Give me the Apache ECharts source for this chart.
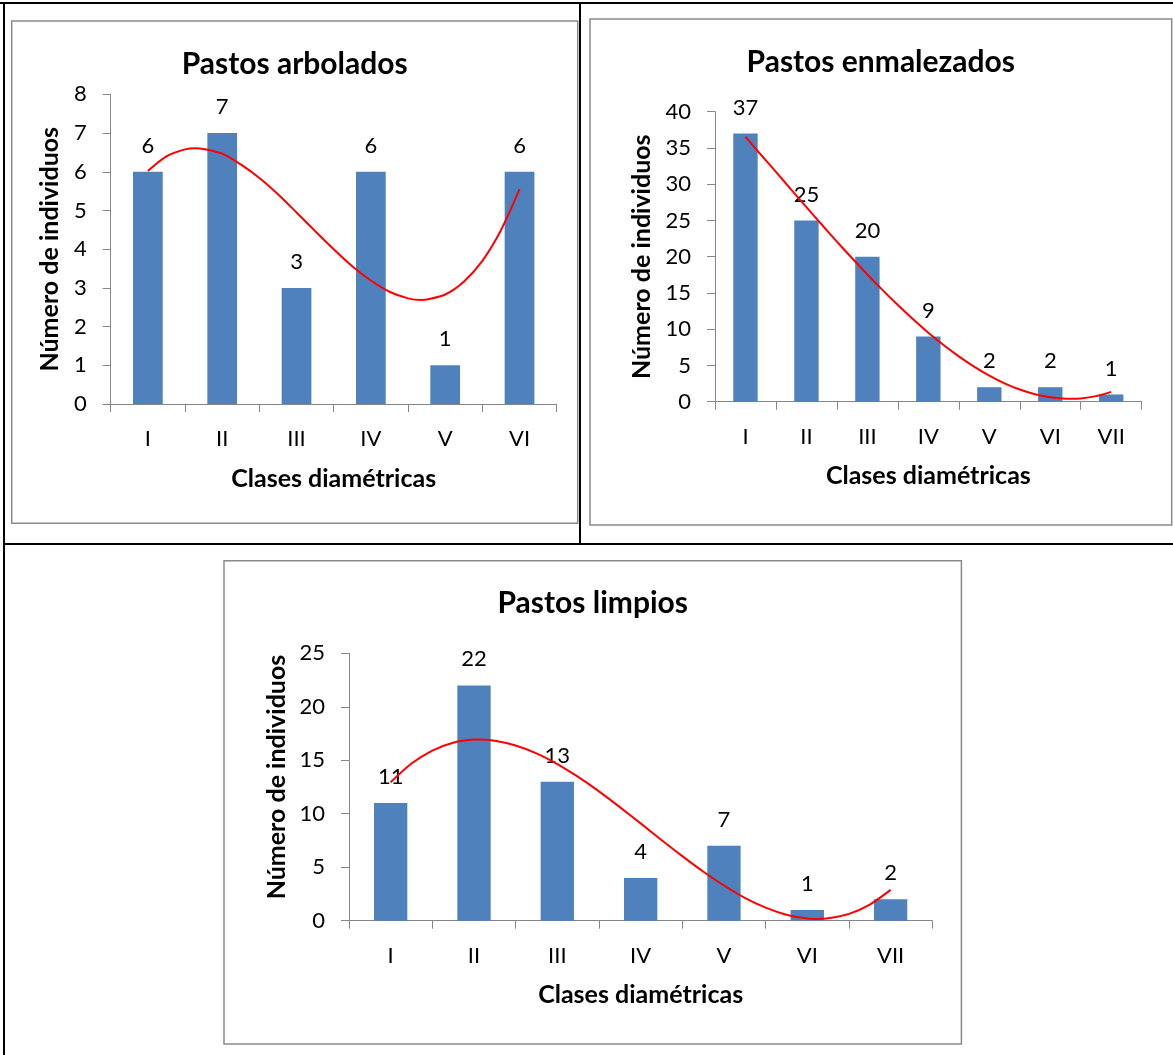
<!DOCTYPE html>
<html>
<head>
<meta charset="utf-8">
<script src="https://cdn.jsdelivr.net/npm/echarts@6/dist/echarts.min.js"></script>
<style>
html,body{margin:0;padding:0;background:#fff;}
#c{width:1173px;height:1055px;}
</style>
</head>
<body>
<div id="c"></div>
<script>
// ---- data ----
const titles = ['Pastos arbolados', 'Pastos enmalezados', 'Pastos limpios'];
const xName = 'Clases diamétricas';
const yName = 'Número de individuos';

const cats1 = ['I', 'II', 'III', 'IV', 'V', 'VI'];
const vals1 = [6, 7, 3, 6, 1, 6];
const cats2 = ['I', 'II', 'III', 'IV', 'V', 'VI', 'VII'];
const vals2 = [37, 25, 20, 9, 2, 2, 1];
const cats3 = ['I', 'II', 'III', 'IV', 'V', 'VI', 'VII'];
const vals3 = [11, 22, 13, 4, 7, 1, 2];

// red trend curves (0 = class I), incl. its turning points
const trendX1 = [0, 0.25, 0.5, 0.64, 0.75, 1, 1.25, 1.5, 1.75, 2, 2.25, 2.5, 2.75, 3, 3.25, 3.5, 3.68, 3.75, 4, 4.25, 4.5, 4.75, 5];
const trendY1 = [6.02, 6.4, 6.58, 6.61, 6.59, 6.47, 6.19, 5.84, 5.42, 4.95, 4.47, 4.0, 3.56, 3.19, 2.9, 2.73, 2.69, 2.7, 2.83, 3.16, 3.7, 4.49, 5.55];
const trendX2 = [0, 0.25, 0.5, 0.75, 1, 1.25, 1.5, 1.75, 2, 2.25, 2.5, 2.75, 3, 3.25, 3.5, 3.75, 4, 4.25, 4.5, 4.75, 5, 5.25, 5.32, 5.5, 5.75, 6];
const trendY2 = [36.55, 34.1, 31.7, 29.25, 26.83, 24.44, 22.08, 19.78, 17.55, 15.39, 13.33, 11.37, 9.52, 7.81, 6.25, 4.84, 3.6, 2.54, 1.68, 1.03, 0.6, 0.4, 0.39, 0.45, 0.77, 1.36];
const trendX3 = [0, 0.25, 0.5, 0.75, 1, 1.06, 1.25, 1.5, 1.75, 2, 2.25, 2.5, 2.75, 3, 3.25, 3.5, 3.75, 4, 4.25, 4.5, 4.75, 5, 5.12, 5.25, 5.5, 5.75, 6];
const trendY3 = [12.95, 14.7, 15.91, 16.64, 16.93, 16.94, 16.83, 16.38, 15.64, 14.64, 13.44, 12.09, 10.62, 9.1, 7.55, 6.04, 4.6, 3.29, 2.14, 1.22, 0.56, 0.21, 0.17, 0.22, 0.64, 1.51, 2.88];

// y axis scales
const yMax = [8, 40, 25];
const yStep = [1, 5, 5];

// ---- layout ----
const FONT = 'Lato';
const AXC = '#868686';
const BAR = '#4F81BD';
const grids = [
  {left: 110.7, top: 94.4, width: 446, height: 309.6},
  {left: 715, top: 111.7, width: 426.7, height: 290},
  {left: 349, top: 653.3, width: 583.3, height: 267.4}
];
const boxes = [
  {x: 11.7, y: 21, w: 566, h: 502.3},
  {x: 590, y: 19, w: 581.7, h: 506},
  {x: 224, y: 560.7, w: 737.4, h: 483.3}
];
const titlePos = [{x: 294.7, y: 49.5}, {x: 880.8, y: 47}, {x: 592.7, y: 588.5}];
const yNameGap = [48, 61, 60];
const yNamePad = [0, 0, 20];

const cats = [cats1, cats2, cats3];
const vals = [vals1, vals2, vals3];
const tX = [trendX1, trendX2, trendX3];
const tY = [trendY1, trendY2, trendY3];

const xAxes = [], yAxes = [], series = [], title = [], gridOpts = [];
for (let i = 0; i < 3; i++) {
  gridOpts.push(Object.assign({outerBoundsMode: 'none', containLabel: false}, grids[i]));
  title.push({
    text: titles[i], left: titlePos[i].x, top: titlePos[i].y, textAlign: 'center', padding: 0,
    textStyle: {fontFamily: FONT, fontWeight: 'bold', fontSize: 30, color: '#000'}
  });
  xAxes.push({
    type: 'category', gridIndex: i, data: cats[i], boundaryGap: true,
    axisLine: {show: true, onZero: false, lineStyle: {color: AXC, width: 1}},
    axisTick: {show: true, length: 8, lineStyle: {color: AXC}},
    axisLabel: {margin: 24, fontFamily: FONT, fontSize: 22, color: '#000'},
    splitLine: {show: false},
    name: xName, nameLocation: 'middle', nameGap: 62,
    nameTextStyle: {fontFamily: FONT, fontWeight: 'bold', fontSize: 25, color: '#000'}
  });
  xAxes.push({
    type: 'value', gridIndex: i, min: -0.5, max: cats[i].length - 0.5, show: false,
    axisLine: {show: false, onZero: false}, splitLine: {show: false}
  });
  yAxes.push({
    type: 'value', gridIndex: i, min: 0, max: yMax[i], interval: yStep[i],
    axisLine: {show: true, onZero: false, lineStyle: {color: AXC, width: 1}},
    axisTick: {show: true, length: 8, lineStyle: {color: AXC}},
    axisLabel: {margin: 24, fontFamily: FONT, fontSize: 22, color: '#000'},
    splitLine: {show: false},
    name: yName, nameLocation: 'middle', nameGap: yNameGap[i],
    nameTextStyle: {fontFamily: FONT, fontWeight: 'bold', fontSize: 25, color: '#000',
      padding: [0, 0, 0, yNamePad[i]]}
  });
  series.push({
    type: 'bar', xAxisIndex: 2 * i, yAxisIndex: i, data: vals[i], barWidth: '40%',
    itemStyle: {color: BAR},
    label: {show: true, position: 'top', distance: 15, fontFamily: FONT, fontSize: 22, color: '#000'},
    z: 2
  });
  series.push({
    type: 'line', xAxisIndex: 2 * i + 1, yAxisIndex: i,
    data: tX[i].map((x, k) => [x, tY[i][k]]),
    smooth: 0.3, showSymbol: false, symbol: 'none',
    lineStyle: {color: '#FF0000', width: 2}, z: 3, silent: true
  });
}

const graphic = [
  // table borders
  {type: 'rect', shape: {x: 0, y: 2, width: 1173, height: 2}, style: {fill: '#000'}},
  {type: 'rect', shape: {x: 3, y: 2, width: 2, height: 1053}, style: {fill: '#000'}},
  {type: 'rect', shape: {x: 579, y: 2, width: 2, height: 542}, style: {fill: '#000'}},
  {type: 'rect', shape: {x: 3, y: 543, width: 1170, height: 2}, style: {fill: '#000'}}
];
boxes.forEach(b => graphic.push({
  type: 'rect', shape: {x: b.x, y: b.y, width: b.w, height: b.h},
  style: {fill: 'none', stroke: '#8a8a8a', lineWidth: 1.5}, z: -1
}));

const chart = echarts.init(document.getElementById('c'), null, {renderer: 'canvas'});
chart.setOption({
  animation: false,
  backgroundColor: '#fff',
  title: title,
  grid: gridOpts,
  xAxis: xAxes,
  yAxis: yAxes,
  series: series,
  graphic: graphic
});
</script>
</body>
</html>
